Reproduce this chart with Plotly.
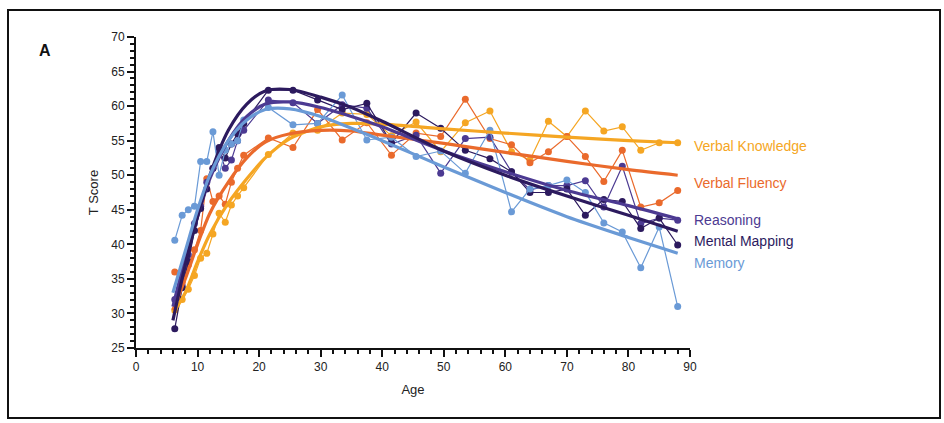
import plotly.graph_objects as go

# Age bins (years)
ages = [6.3, 7.5, 8.5, 9.5, 10.5, 11.5, 12.5, 13.5, 14.5, 15.5, 16.5, 17.5,
        21.5, 25.5, 29.5, 33.5, 37.5, 41.5, 45.5, 49.5, 53.5, 57.5,
        61, 64, 67, 70, 73, 76, 79, 82, 85, 88]

# Mean T scores per age bin
verbal_knowledge = [30.5, 32.0, 33.5, 35.5, 38.0, 38.7, 41.5, 44.5, 43.2, 45.7, 47.0, 48.2,
                    53.0, 56.1, 56.5, 59.0, 58.8, 55.7, 57.7, 53.4, 57.6, 59.3,
                    53.4, 52.2, 57.8, 55.6, 59.3, 56.4, 57.0, 53.6, 54.7, 54.7]
verbal_fluency = [36.0, 34.5, 37.0, 39.2, 42.0, 49.5, 46.2, 47.0, 45.8, 49.0, 51.0, 52.9,
                  55.4, 54.0, 59.5, 55.1, 57.6, 52.9, 56.1, 55.6, 61.0, 55.3,
                  54.4, 51.8, 53.4, 55.6, 52.7, 49.1, 53.6, 45.4, 46.0, 47.8]
reasoning = [32.0, 34.0, 38.5, 43.0, 45.5, 49.0, 51.0, 53.5, 51.0, 52.2, 55.0, 56.5,
             60.9, 60.5, 57.5, 60.2, 59.7, 54.5, 55.8, 50.3, 55.3, 55.5,
             50.5, 47.9, 48.5, 48.5, 49.2, 45.4, 51.3, 43.0, 43.8, 43.5]
mental_mapping = [27.8, 33.7, 37.5, 42.0, 45.2, 48.0, 51.0, 54.0, 52.5, 54.5, 56.0, 57.5,
                  62.3, 62.3, 60.9, 59.5, 60.4, 54.7, 59.0, 56.8, 53.6, 52.4,
                  50.5, 47.5, 47.5, 48.0, 44.2, 46.5, 46.2, 42.3, 43.8, 39.9]
memory = [40.6, 44.2, 45.0, 45.5, 52.0, 52.0, 56.3, 50.0, 53.6, 54.5, 55.0, 58.0,
          59.8, 57.3, 57.5, 61.6, 55.1, 55.5, 52.7, 53.5, 50.3, 56.5,
          44.7, 48.0, 48.5, 49.3, 47.5, 43.1, 41.8, 36.6, 42.5, 31.0]

# Smoothed lifespan trends, sampled at these ages
fit_ages = [6, 8, 10, 12, 15, 18, 21, 25, 30, 35, 40, 50, 60, 70, 80, 88]
fit_verbal_knowledge = [30.0, 33.0, 37.5, 41.5, 46.0, 49.5, 52.5, 55.3, 57.0, 57.5, 57.4, 56.7, 56.1, 55.5, 55.0, 54.7]
fit_verbal_fluency = [30.5, 35.0, 40.0, 44.5, 49.0, 52.5, 54.8, 56.0, 56.5, 56.4, 55.8, 54.6, 53.3, 52.0, 50.8, 50.0]
fit_reasoning = [31.0, 38.0, 44.0, 49.5, 55.0, 58.5, 60.3, 60.6, 59.8, 58.5, 57.0, 53.5, 50.5, 47.8, 45.6, 43.7]
fit_mental_mapping = [29.0, 37.0, 44.0, 50.0, 56.5, 60.3, 62.2, 62.4, 61.3, 59.8, 57.8, 53.5, 50.0, 47.0, 44.2, 41.9]
fit_memory = [33.0, 39.0, 45.0, 50.0, 55.0, 58.0, 59.5, 59.6, 58.5, 56.8, 55.0, 51.2, 47.5, 44.0, 41.0, 38.7]

series = [
    ("Verbal Knowledge", "#F5A623", verbal_knowledge, fit_verbal_knowledge, 146),
    ("Verbal Fluency", "#EA6A2C", verbal_fluency, fit_verbal_fluency, 183),
    ("Reasoning", "#4C3A92", reasoning, fit_reasoning, 220),
    ("Mental Mapping", "#2C1A5E", mental_mapping, fit_mental_mapping, 241),
    ("Memory", "#6A9AD6", memory, fit_memory, 263),
]

W, H = 944, 423
L, R, T, B = 136, 254, 37, 75
PW, PH = W - L - R, H - T - B


def px(x):
    return (x - L) / PW


def py(y):
    return (H - B - y) / PH


fig = go.Figure()
for name, color, vals, fit, _ in series:
    fig.add_trace(go.Scatter(
        x=ages, y=vals, mode="lines+markers", name=name,
        line=dict(color=color, width=1.2),
        marker=dict(color=color, size=7),
        showlegend=False, cliponaxis=False,
    ))
for name, color, vals, fit, _ in series:
    fig.add_trace(go.Scatter(
        x=fit_ages, y=fit, mode="lines", name=name + " trend",
        line=dict(color=color, width=3.2, shape="spline", smoothing=0.8),
        showlegend=False,
    ))

annotations = []
for name, color, vals, fit, ylab in series:
    annotations.append(dict(
        text=name, xref="paper", yref="paper", x=px(692), y=py(ylab),
        xanchor="left", yanchor="middle", showarrow=False,
        font=dict(size=14, color=color, family="Liberation Sans, Arial"),
    ))
annotations.append(dict(
    text="<b>A</b>", xref="paper", yref="paper", x=px(45), y=py(50),
    xanchor="center", yanchor="middle", showarrow=False,
    font=dict(size=16, color="#111", family="Liberation Sans, Arial"),
))

fig.update_layout(
    width=W, height=H,
    margin=dict(l=L, r=R, t=T, b=B),
    paper_bgcolor="white", plot_bgcolor="white",
    font=dict(family="Liberation Sans Narrow, Liberation Sans, Arial", size=12, color="#222"),
    annotations=annotations,
    shapes=[dict(
        type="rect", xref="paper", yref="paper",
        x0=px(8), x1=px(940), y0=py(418), y1=py(10),
        line=dict(color="#111", width=2),
    )],
    xaxis=dict(
        range=[0, 90], showgrid=False, zeroline=False,
        showline=True, linecolor="#111", linewidth=2,
        ticks="outside", tickwidth=2, ticklen=7, tickcolor="#111",
        dtick=10, tick0=0,
        minor=dict(dtick=2, ticks="outside", ticklen=4, tickwidth=1.5, tickcolor="#111"),
        title=dict(text="Age", font=dict(size=13, family="Liberation Sans, Arial"), standoff=11),
    ),
    yaxis=dict(
        range=[25, 70], showgrid=False, zeroline=False,
        showline=True, linecolor="#111", linewidth=2,
        ticks="outside", tickwidth=2, ticklen=7, tickcolor="#111",
        dtick=5, tick0=25,
        minor=dict(dtick=1, ticks="outside", ticklen=4, tickwidth=1.5, tickcolor="#111"),
        title=dict(text="T Score", font=dict(size=13, family="Liberation Sans, Arial"), standoff=10),
    ),
)

fig.write_html("out.html")
